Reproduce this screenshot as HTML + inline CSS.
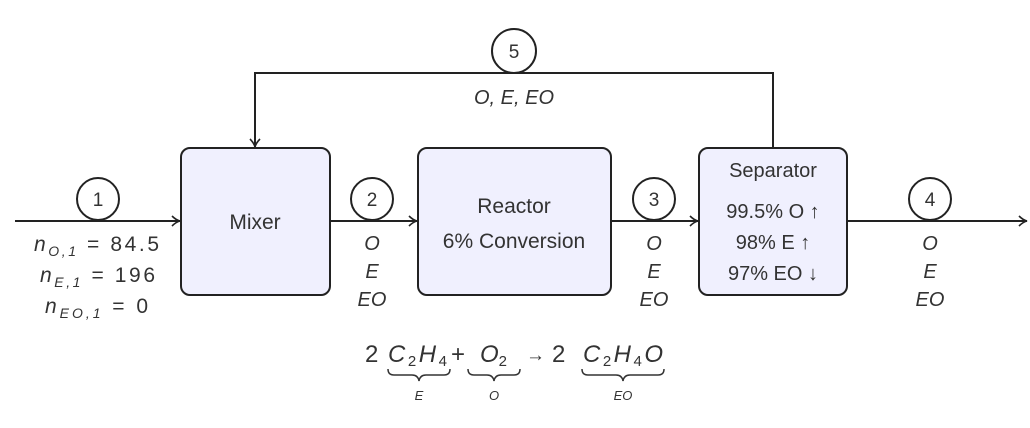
<!DOCTYPE html>
<html><head><meta charset="utf-8"><style>
html,body{margin:0;padding:0;background:#fff;}
svg{display:block;}
text{font-family:"Liberation Sans",sans-serif;fill:#333;}
.i{font-style:italic;}
</style></head><body>
<svg width="1030" height="428" viewBox="0 0 1030 428" xmlns="http://www.w3.org/2000/svg">
<defs>
<marker id="a" markerWidth="10" markerHeight="12" refX="9" refY="6" orient="auto" markerUnits="userSpaceOnUse">
<path d="M1,1 Q5,5 9,6 Q5,7 1,11" fill="none" stroke="#222" stroke-width="1.6"/>
</marker>
</defs>
<g stroke="#222" stroke-width="2" fill="none">
<line x1="15" y1="221" x2="180" y2="221" marker-end="url(#a)"/>
<line x1="330" y1="221" x2="417" y2="221" marker-end="url(#a)"/>
<line x1="611" y1="221" x2="698" y2="221" marker-end="url(#a)"/>
<line x1="848" y1="221" x2="1027" y2="221" marker-end="url(#a)"/>
<polyline points="773,148 773,73 255,73 255,147" marker-end="url(#a)"/>
<rect x="181" y="148" width="149" height="147" rx="9" fill="#f0f0fe"/>
<rect x="418" y="148" width="193" height="147" rx="9" fill="#f0f0fe"/>
<rect x="699" y="148" width="148" height="147" rx="9" fill="#f0f0fe"/>
<circle cx="98" cy="199" r="21" fill="#fff"/>
<circle cx="372" cy="199" r="21" fill="#fff"/>
<circle cx="654" cy="199" r="21" fill="#fff"/>
<circle cx="930" cy="199" r="21" fill="#fff"/>
<circle cx="514" cy="51" r="22" fill="#fff"/>
</g>
<g font-size="19" text-anchor="middle">
<text x="98" y="206">1</text>
<text x="372" y="206">2</text>
<text x="654" y="206">3</text>
<text x="930" y="206">4</text>
<text x="514" y="58">5</text>
<text x="255" y="229" font-size="21">Mixer</text>
<text x="514" y="213" font-size="21">Reactor</text>
<text x="514" y="248" font-size="21">6% Conversion</text>
<text x="773" y="177" font-size="20">Separator</text>
<text x="773" y="218" font-size="20">99.5% O ↑</text>
<text x="773" y="249" font-size="20">98% E ↑</text>
<text x="773" y="280" font-size="20">97% EO ↓</text>
<text x="514" y="104" class="i" font-size="20">O, E, EO</text>
</g>
<g font-size="20" text-anchor="middle" class="i">
<text x="372" y="250" class="i">O</text><text x="372" y="278" class="i">E</text><text x="372" y="306" class="i">EO</text>
<text x="654" y="250" class="i">O</text><text x="654" y="278" class="i">E</text><text x="654" y="306" class="i">EO</text>
<text x="930" y="250" class="i">O</text><text x="930" y="278" class="i">E</text><text x="930" y="306" class="i">EO</text>
</g>
<g font-size="21">
<text x="34" y="251" textLength="125" lengthAdjust="spacing"><tspan class="i">n</tspan><tspan class="i" font-size="14" dy="5">O,1</tspan><tspan dy="-5"> = 84.5</tspan></text>
<text x="40" y="282" textLength="115" lengthAdjust="spacing"><tspan class="i">n</tspan><tspan class="i" font-size="14" dy="5">E,1</tspan><tspan dy="-5"> = 196</tspan></text>
<text x="45" y="313" textLength="103" lengthAdjust="spacing"><tspan class="i">n</tspan><tspan class="i" font-size="14" dy="5">EO,1</tspan><tspan dy="-5"> = 0</tspan></text>
</g>
<g font-size="24">
<text x="365" y="362">2</text>
<text x="388" y="362" textLength="59" lengthAdjust="spacing"><tspan class="i">C</tspan><tspan font-size="15" dy="4">2</tspan><tspan class="i" dy="-4">H</tspan><tspan font-size="15" dy="4">4</tspan></text>
<text x="451" y="362">+</text>
<text x="480" y="362"><tspan class="i">O</tspan><tspan font-size="15" dy="4">2</tspan></text>
<text x="526" y="361" font-size="19">→</text>
<text x="552" y="362">2</text>
<text x="583" y="362" textLength="80" lengthAdjust="spacing"><tspan class="i">C</tspan><tspan font-size="15" dy="4">2</tspan><tspan class="i" dy="-4">H</tspan><tspan font-size="15" dy="4">4</tspan><tspan class="i" dy="-4">O</tspan></text>
</g>
<g stroke="#333" stroke-width="1.5" fill="none">
<path d="M388,369 q0,6 6,6 h18 q6,0 7,6 q1,-6 7,-6 h18 q6,0 6,-6"/>
<path d="M468,369 q0,6 6,6 h13 q6,0 7,6 q1,-6 7,-6 h13 q6,0 6,-6"/>
<path d="M582,369 q0,6 6,6 h28 q6,0 7,6 q1,-6 7,-6 h28 q6,0 6,-6"/>
</g>
<g font-size="13" text-anchor="middle" class="i">
<text x="419" y="400" class="i">E</text>
<text x="494" y="400" class="i">O</text>
<text x="623" y="400" class="i">EO</text>
</g>
</svg>
</body></html>
